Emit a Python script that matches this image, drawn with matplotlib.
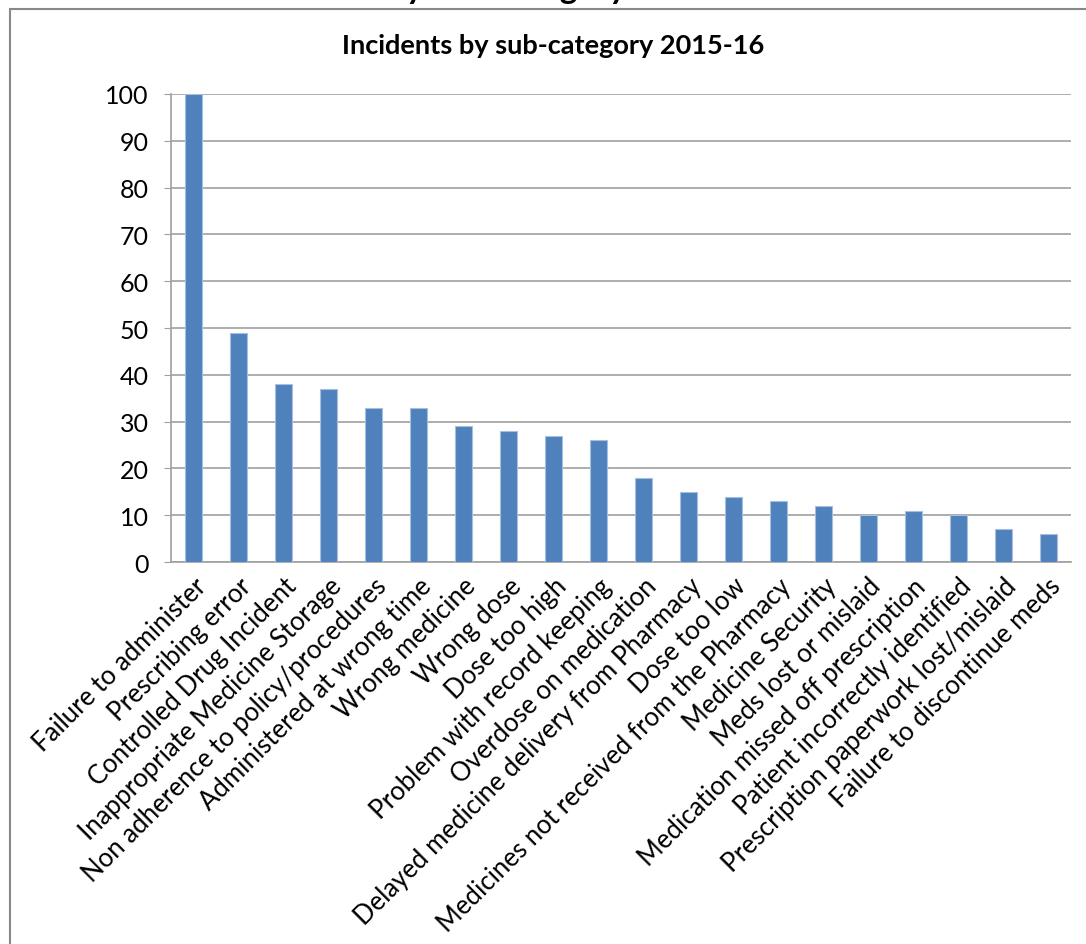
import numpy as np
import matplotlib.pyplot as plt
from matplotlib.patches import Rectangle

plt.rcParams['font.family'] = ['Lato', 'DejaVu Sans']

categories = [
    "Failure to administer", "Prescribing error", "Controlled Drug Incident",
    "Inappropriate Medicine Storage", "Non adherence to policy/procedures",
    "Administered at wrong time", "Wrong medicine", "Wrong dose", "Dose too high",
    "Problem with record keeping", "Overdose on medication",
    "Delayed medicine delivery from Pharmacy", "Dose too low",
    "Medicines not received from the Pharmacy", "Medicine Security",
    "Meds lost or mislaid", "Medication missed off prescription",
    "Patient incorrectly identified", "Prescription paperwork lost/mislaid",
    "Failure to discontinue meds",
]
counts = [100, 49, 38, 37, 33, 33, 29, 28, 27, 26, 18, 15, 14, 13, 12, 10, 11, 10, 7, 6]
y_ticks = list(range(0, 101, 10))

fig = plt.figure(figsize=(10.86, 9.45), dpi=100)
ax = fig.add_axes([0.1575, 0.4042, 0.8285, 0.4953])

x = np.arange(len(categories))
ax.bar(x, counts, width=0.38, color='#4F81BD', edgecolor='#A7BFDE', linewidth=0.8, zorder=3)

ax.set_xlim(-0.5, len(categories) - 0.5)
ax.set_ylim(0, 100)
ax.set_yticks(y_ticks)
ax.tick_params(axis='y', labelsize=18, length=5, color='#A0A0A0', pad=11)
ax.tick_params(axis='x', length=0, pad=8)
ax.set_xticks(x)
ax.set_xticklabels(categories, rotation=45, ha='right', rotation_mode='anchor', fontsize=18.5)
ax.grid(axis='y', color='#A0A0A0', linewidth=1.2, zorder=0)

for side in ['top', 'right']:
    ax.spines[side].set_visible(False)
for side in ['left', 'bottom']:
    ax.spines[side].set_color('#A0A0A0')
    ax.spines[side].set_linewidth(1.2)

fig.text(0.509, 0.951, "Incidents by sub-category 2015-16", ha='center', va='center',
         fontsize=19.5, fontweight='bold')

# cropped heading from the page above the chart (only descenders show)
fig.text(0.40, 1 + 1 / 945, "Incidents by sub-category", ha='center', va='baseline',
         fontsize=24, fontweight='bold')

# chart frame (cut off on the right and bottom)
fig.patches.append(Rectangle((10 / 1086, -0.05), 1.2, 1 - 10 / 945 + 0.05,
                             transform=fig.transFigure, fill=False,
                             edgecolor='#888888', linewidth=1.5))

fig.savefig("out.png", dpi=100)
